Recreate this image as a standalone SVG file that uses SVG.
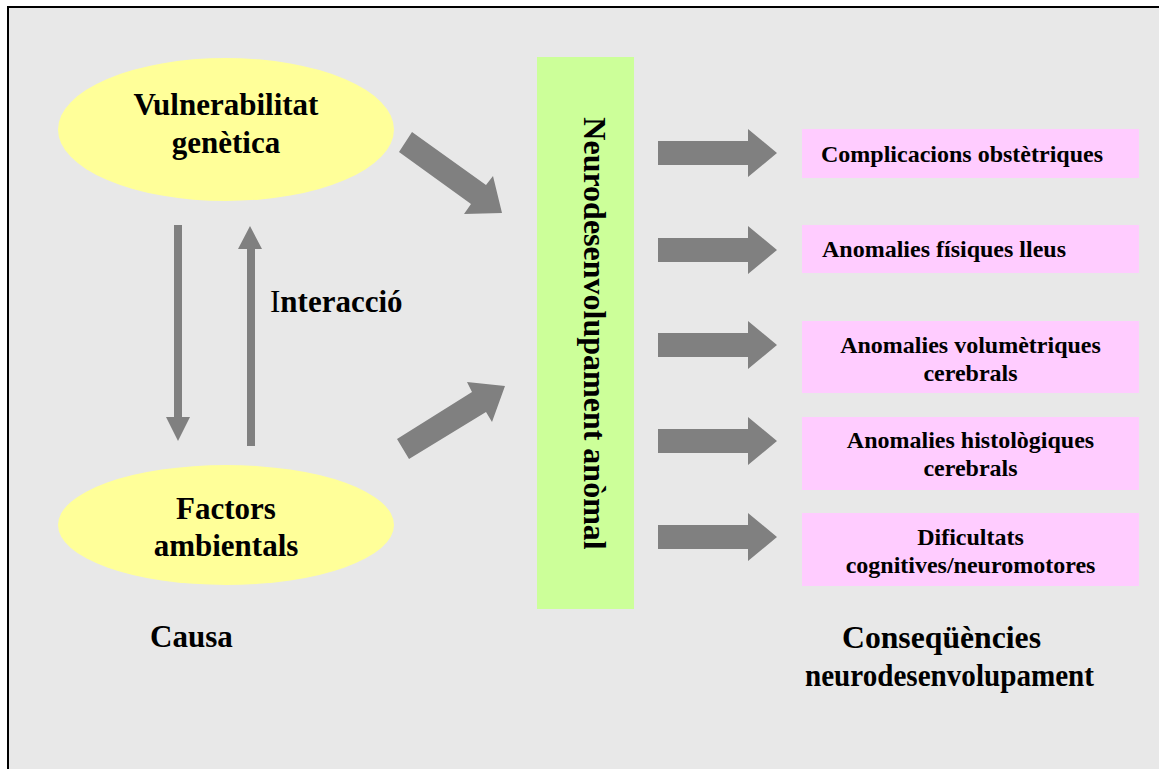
<svg xmlns="http://www.w3.org/2000/svg" width="1159" height="769" viewBox="0 0 1159 769">
  <style>
    text { font-family: "Liberation Serif", "Times New Roman", serif; font-weight: bold; fill: #000; }
    .big { font-size: 31px; }
    .small { font-size: 24px; }
    .ell { fill: #ffff99; }
    .box { fill: #ffccff; }
    .arr { fill: #808080; }
  </style>
  <rect x="0" y="0" width="1159" height="769" fill="#ffffff"/>
  <rect x="8" y="7" width="1160" height="780" fill="#e8e8e8" stroke="#000" stroke-width="2"/>

  <g id="vulnerabilitat">
    <ellipse class="ell" cx="226" cy="129.5" rx="168" ry="71.5"/>
    <text class="big" x="226" y="115" text-anchor="middle">Vulnerabilitat</text>
    <text class="big" x="226" y="153" text-anchor="middle">genètica</text>
  </g>
  <g id="factors">
    <ellipse class="ell" cx="226" cy="525" rx="168" ry="60"/>
    <text class="big" x="226" y="519" text-anchor="middle">Factors</text>
    <text class="big" x="226" y="556" text-anchor="middle">ambientals</text>
  </g>
  <g id="interaccio">
    <text class="big" x="270" y="312"><tspan font-weight="normal">I</tspan>nteracció</text>
  </g>
  <g id="neuro">
    <rect x="537" y="57" width="97" height="552" fill="#ccff99"/>
    <text font-size="32" text-anchor="middle" transform="translate(584,333.5) rotate(90)">Neurodesenvolupament anòmal</text>
  </g>
  <g id="c1">
    <rect class="box" x="802" y="129" width="337" height="49"/>
    <text class="small" x="821" y="162">Complicacions obstètriques</text>
  </g>
  <g id="c2">
    <rect class="box" x="802" y="225" width="337" height="48"/>
    <text class="small" x="822" y="257">Anomalies físiques lleus</text>
  </g>
  <g id="c3">
    <rect class="box" x="802" y="321" width="337" height="72"/>
    <text class="small" x="970.5" y="353" text-anchor="middle">Anomalies volumètriques</text>
    <text class="small" x="970.5" y="381" text-anchor="middle">cerebrals</text>
  </g>
  <g id="c4">
    <rect class="box" x="802" y="417" width="337" height="73"/>
    <text class="small" x="970.5" y="448" text-anchor="middle">Anomalies histològiques</text>
    <text class="small" x="970.5" y="476" text-anchor="middle">cerebrals</text>
  </g>
  <g id="c5">
    <rect class="box" x="802" y="513" width="337" height="73"/>
    <text class="small" x="970.5" y="545" text-anchor="middle">Dificultats</text>
    <text class="small" x="970.5" y="573" text-anchor="middle">cognitives/neuromotores</text>
  </g>
  <g id="causa">
    <text class="big" x="150" y="647">Causa</text>
  </g>
  <g id="consequencies">
    <text class="big" x="842" y="648" textLength="199" lengthAdjust="spacingAndGlyphs">Conseqüències</text>
    <text class="big" x="805" y="686" textLength="289" lengthAdjust="spacingAndGlyphs">neurodesenvolupament</text>
  </g>

  <g id="connectors">
    <polygon class="arr" points="174,225 182,225 182,417 190,417 178,441 166,417 174,417"/>
    <polygon class="arr" points="247,446 255,446 255,249 262,249 250,226 238,249 247,249"/>
    <polygon class="arr" points="412,132 486,185 493,176 502,213 464,214 471,204 399,152"/>
    <polygon class="arr" points="397,439 472,392 467,382 505,386 492,422 486,412 409,459"/>
    <g id="right-arrows">
      <polygon class="arr" points="658,141 748,141 748,129 777,153 748,177 748,165 658,165"/>
      <polygon class="arr" points="658,238 748,238 748,226 777,250 748,274 748,262 658,262"/>
      <polygon class="arr" points="658,333 748,333 748,321 777,345 748,369 748,357 658,357"/>
      <polygon class="arr" points="658,429 748,429 748,417 777,441 748,465 748,453 658,453"/>
      <polygon class="arr" points="658,525 748,525 748,513 777,537 748,561 748,549 658,549"/>
    </g>
  </g>
</svg>
